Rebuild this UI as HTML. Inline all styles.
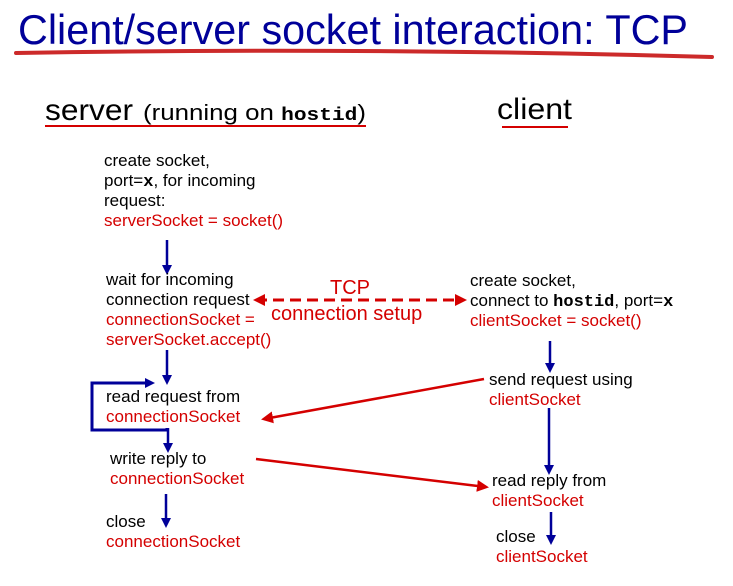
<!DOCTYPE html>
<html><head><meta charset="utf-8"><style>
html,body{margin:0;padding:0;background:#fff;}
svg{display:block;}
text{font-family:"Liberation Sans",Arial,sans-serif;}
.b{fill:#000;font-size:17px;}
.r{fill:#d40000;font-size:17px;}
.m{font-family:"Liberation Mono",monospace;font-weight:bold;}
</style></head><body>
<svg width="733" height="586" viewBox="0 0 733 586" xmlns="http://www.w3.org/2000/svg">
<defs>
<marker id="ab" markerWidth="10" markerHeight="10" refX="7" refY="5" orient="auto" markerUnits="userSpaceOnUse"><path d="M0,0 L10,5 L0,10 z" fill="#000099"/></marker>
<marker id="ar" markerWidth="12" markerHeight="12" refX="9" refY="6" orient="auto" markerUnits="userSpaceOnUse"><path d="M0,0 L12,6 L0,12 z" fill="#d40000"/></marker>
<marker id="ar2" markerWidth="12" markerHeight="12" refX="3" refY="6" orient="auto" markerUnits="userSpaceOnUse"><path d="M12,0 L0,6 L12,12 z" fill="#d40000"/></marker>
</defs>
<text x="18" y="44" font-size="42" fill="#000099" textLength="670" lengthAdjust="spacingAndGlyphs">Client/server socket interaction: TCP</text>
<path d="M16,53 Q360,47 712,57" stroke="#cc2a2a" stroke-width="4" fill="none" stroke-linecap="round"/>
<text x="45" y="120" font-size="30" fill="#000" textLength="88" lengthAdjust="spacingAndGlyphs">server</text>
<text x="143" y="120" font-size="22" fill="#000" textLength="223" lengthAdjust="spacingAndGlyphs">(running on <tspan class="m" font-size="18">hostid</tspan>)</text>
<line x1="45" y1="126" x2="366" y2="126" stroke="#d40000" stroke-width="2"/>
<text x="497" y="119" font-size="30" fill="#000" textLength="75" lengthAdjust="spacingAndGlyphs">client</text>
<line x1="502" y1="127" x2="568" y2="127" stroke="#d40000" stroke-width="2"/>

<text class="b" x="104" y="166">create socket,</text>
<text class="b" x="104" y="186">port=<tspan class="m">x</tspan>, for incoming</text>
<text class="b" x="104" y="206">request:</text>
<text class="r" x="104" y="226">serverSocket = socket()</text>
<line x1="167" y1="240" x2="167" y2="272" stroke="#000099" stroke-width="2.5" marker-end="url(#ab)"/>

<text class="b" x="106" y="285">wait for incoming</text>
<text class="b" x="106" y="305">connection request</text>
<text class="r" x="106" y="325">connectionSocket =</text>
<text class="r" x="106" y="345">serverSocket.accept()</text>
<line x1="167" y1="350" x2="167" y2="382" stroke="#000099" stroke-width="2.5" marker-end="url(#ab)"/>

<line x1="256" y1="300" x2="464" y2="300" stroke="#d40000" stroke-width="3" stroke-dasharray="11,6" marker-start="url(#ar2)" marker-end="url(#ar)"/>
<text x="330" y="294" font-size="20" fill="#d40000">TCP</text>
<text x="271" y="320" font-size="20" fill="#d40000">connection setup</text>

<text class="b" x="470" y="286">create socket,</text>
<text class="b" x="470" y="306">connect to <tspan class="m">hostid</tspan>, port=<tspan class="m">x</tspan></text>
<text class="r" x="470" y="326">clientSocket = socket()</text>
<line x1="550" y1="341" x2="550" y2="370" stroke="#000099" stroke-width="2.5" marker-end="url(#ab)"/>

<text class="b" x="489" y="385">send request using</text>
<text class="r" x="489" y="405">clientSocket</text>
<line x1="549" y1="408" x2="549" y2="472" stroke="#000099" stroke-width="2.5" marker-end="url(#ab)"/>

<text class="b" x="106" y="402">read request from</text>
<text class="r" x="106" y="422">connectionSocket</text>
<path d="M167,428 L167,430 L92,430 L92,383 L152,383" stroke="#000099" stroke-width="3" fill="none" marker-end="url(#ab)"/>
<line x1="168" y1="428" x2="168" y2="450" stroke="#000099" stroke-width="2.5" marker-end="url(#ab)"/>
<line x1="484" y1="379" x2="264" y2="419" stroke="#d40000" stroke-width="2.5" marker-end="url(#ar)"/>

<text class="b" x="110" y="464">write reply to</text>
<text class="r" x="110" y="484">connectionSocket</text>
<line x1="256" y1="459" x2="486" y2="487" stroke="#d40000" stroke-width="2.5" marker-end="url(#ar)"/>

<text class="b" x="492" y="486">read reply from</text>
<text class="r" x="492" y="506">clientSocket</text>
<line x1="551" y1="512" x2="551" y2="542" stroke="#000099" stroke-width="2.5" marker-end="url(#ab)"/>

<text class="b" x="106" y="527">close</text>
<text class="r" x="106" y="547">connectionSocket</text>
<line x1="166" y1="494" x2="166" y2="525" stroke="#000099" stroke-width="2.5" marker-end="url(#ab)"/>

<text class="b" x="496" y="542">close</text>
<text class="r" x="496" y="562">clientSocket</text>
</svg>
</body></html>
